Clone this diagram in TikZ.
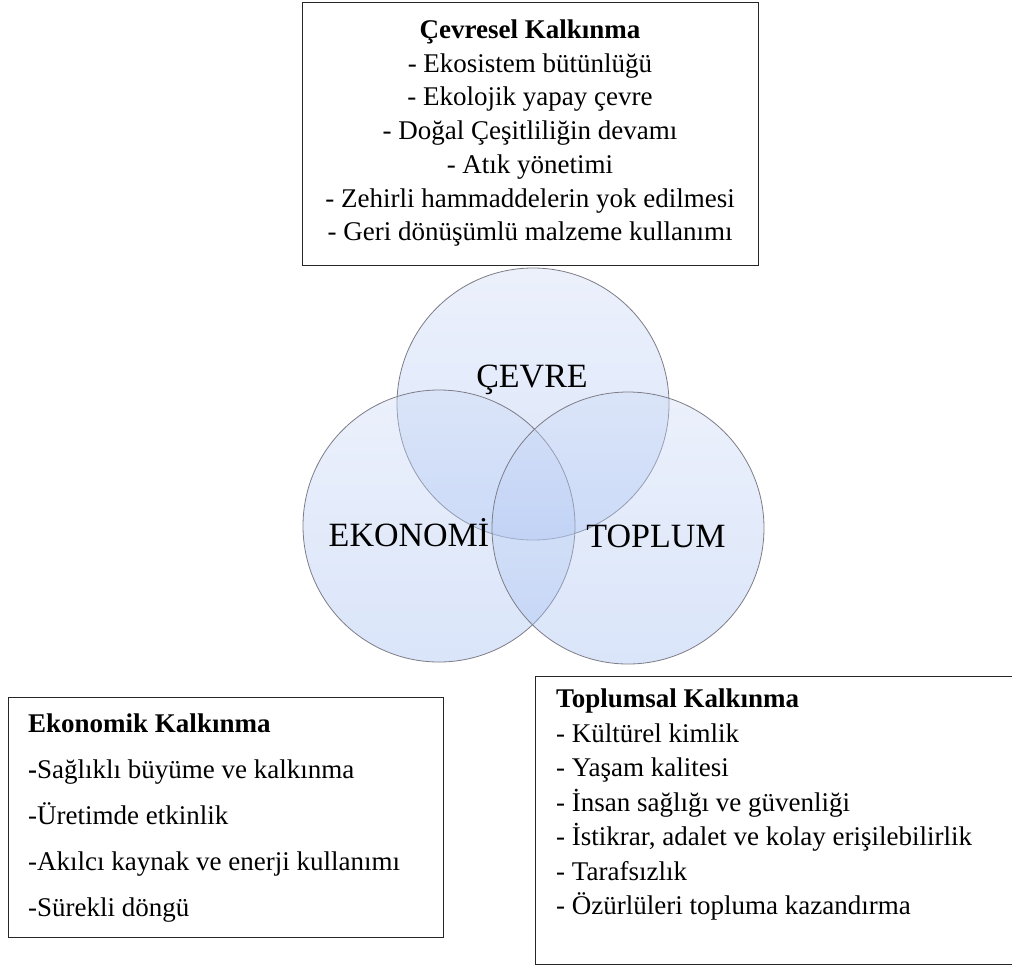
\documentclass[tikz,border=0pt]{standalone}
\usepackage{fontspec}
\setmainfont{Liberation Serif}
\definecolor{circtop}{RGB}{205,218,247}
\definecolor{circbot}{RGB}{160,188,242}
\definecolor{circline}{RGB}{125,125,135}
\tikzset{
  vennc/.style={circle, minimum size=272pt, inner sep=0pt, draw=circline, line width=0.8pt,
    top color=circtop, bottom color=circbot, fill opacity=0.38, draw opacity=1},
  vlabel/.style={anchor=base, inner sep=0pt, font=\fontsize{34}{40}\selectfont},
  infobox/.style={rectangle, draw=black!85, line width=1.3pt, inner sep=0pt, anchor=north west, fill=none},
  bodytext/.style={inner sep=0pt, font=\fontsize{27}{33.7}\selectfont}
}
\begin{document}
\begin{tikzpicture}[x=1pt,y=-1pt]
\useasboundingbox (0,0) rectangle (1012,967);
\fill[white] (0,0) rectangle (1012,967);

% Venn circles
\node[vennc] (cevre) at (533,404) {};
\node[vennc] (ekonomi) at (439,526) {};
\node[vennc] (toplum) at (628,528) {};

\node[vlabel] (cevrelbl) at (532,387) {ÇEVRE};
\node[vlabel] (ekonomilbl) at (409,546) {EKONOMİ};
\node[vlabel] (toplumlbl) at (656,547) {TOPLUM};

% Top box
\node[infobox, minimum width=456pt, minimum height=263pt] (cbox) at (302,2) {};
\node[bodytext, anchor=north, align=center] (ctext) at (530,19.6)
 {\textbf{Çevresel Kalkınma}\\
  - Ekosistem bütünlüğü\\
  - Ekolojik yapay çevre\\
  - Doğal Çeşitliliğin devamı\\
  - Atık yönetimi\\
  - Zehirli hammaddelerin yok edilmesi\\
  - Geri dönüşümlü malzeme kullanımı};

% Economic box
\node[infobox, minimum width=435pt, minimum height=240pt] (ebox) at (8,697) {};
\node[bodytext, anchor=north west, align=left, font=\fontsize{27}{46}\selectfont] (etext) at (28,713.5)
 {\textbf{Ekonomik Kalkınma}\\
  \textbf{-}Sağlıklı büyüme ve kalkınma\\
  -Üretimde etkinlik\\
  -Akılcı kaynak ve enerji kullanımı\\
  -Sürekli döngü};

% Social box (its right side runs past the picture's edge)
\node[infobox, minimum width=485pt, minimum height=288pt] (tbox) at (535,676) {};
\node[bodytext, anchor=north west, align=left, font=\fontsize{27}{34.5}\selectfont] (ttext) at (556,689)
 {\textbf{Toplumsal Kalkınma}\\
  - Kültürel kimlik\\
  - Yaşam kalitesi\\
  - İnsan sağlığı ve güvenliği\\
  - İstikrar, adalet ve kolay erişilebilirlik\\
  - Tarafsızlık\\
  - Özürlüleri topluma kazandırma};
\end{tikzpicture}
\end{document}
